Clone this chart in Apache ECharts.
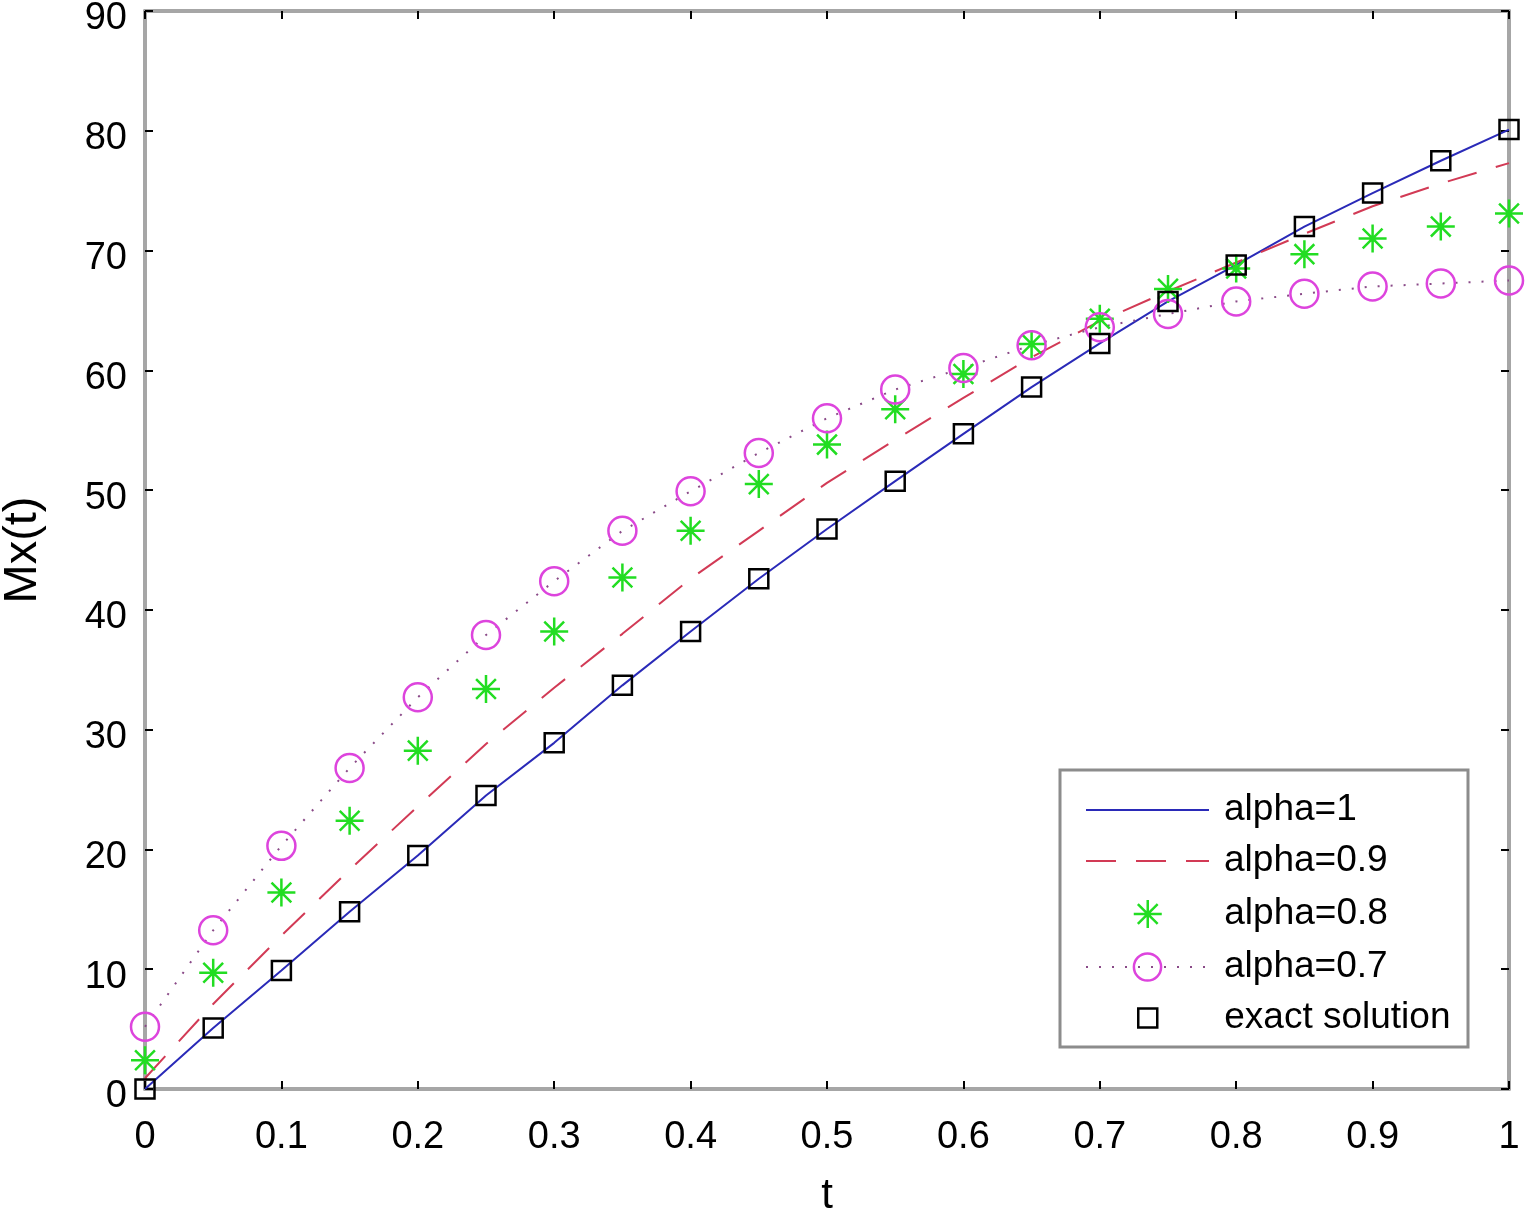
<!DOCTYPE html>
<html><head><meta charset="utf-8">
<script src="https://cdn.jsdelivr.net/npm/echarts@6/dist/echarts.min.js"></script>
<style>html,body{margin:0;padding:0;background:#fff}#c{width:1526px;height:1216px}</style>
</head><body><div id="c"></div>
<script>
const tValues = [0,0.05,0.1,0.15,0.2,0.25,0.3,0.35,0.4,0.45,0.5,0.55,0.6,0.65,0.7,0.75,0.8,0.85,0.9,0.95,1];
const xTickLabels = ['0','0.1','0.2','0.3','0.4','0.5','0.6','0.7','0.8','0.9','1'];
const yTickLabels = ['0','10','20','30','40','50','60','70','80','90'];
const alpha1  = [0,5.1,9.9,14.8,19.5,24.5,28.9,33.7,38.2,42.6,46.75,50.75,54.7,58.6,62.25,65.75,68.8,72.0,74.8,77.5,80.1];
const alpha09 = [0.9,7.1,12.8,18.3,23.6,28.8,33.5,38.0,42.6,46.6,50.6,54.2,57.7,61.1,64.1,66.6,69.0,71.4,73.7,75.6,77.3];
const alpha08 = [2.4,9.7,16.4,22.4,28.25,33.4,38.2,42.7,46.6,50.5,53.8,56.75,59.7,62.2,64.3,66.8,68.5,69.7,71.0,72.0,73.1];
const alpha07 = [5.2,13.25,20.3,26.8,32.7,37.9,42.4,46.6,49.9,53.1,56.0,58.4,60.2,62.1,63.6,64.7,65.75,66.4,67.0,67.25,67.5];
const exact   = [0,5.1,9.9,14.8,19.5,24.5,28.9,33.7,38.2,42.6,46.75,50.75,54.7,58.6,62.25,65.75,68.8,72.0,74.8,77.5,80.1];
const seriesNames = ['alpha=1','alpha=0.9','alpha=0.8','alpha=0.7','exact solution'];

const pairs = arr => tValues.map((t, i) => [t, arr[i]]);
const FONT = 'Liberation Sans';
const STAR = 'path://M0,-10L0,10M-10,0L10,0M-7.07,-7.07L7.07,7.07M-7.07,7.07L7.07,-7.07';
const CIRCLE = 'path://M10,0A10,10 0 1,1 -10,0A10,10 0 1,1 10,0Z';
const SQUARE = 'path://M0,0L10,0L10,10L0,10Z';
const frameColor = '#a6a6a6';

function xAx(pos, show) {
  return {
    type: 'value', min: 0, max: 1, interval: 0.1, position: pos,
    axisLine: { show: true, onZero: false, lineStyle: { color: frameColor, width: 4 } },
    axisTick: { show: true, inside: true, length: 8, lineStyle: { color: '#000', width: 2 } },
    axisLabel: { show: show, fontSize: 38, color: '#000', fontFamily: FONT, margin: 30,
      formatter: v => xTickLabels[Math.round(v * 10)] },
    splitLine: { show: false },
    name: show ? 't' : '', nameLocation: 'middle', nameGap: 86,
    nameTextStyle: { fontSize: 42, color: '#000', fontFamily: FONT }
  };
}
function yAx(pos, show) {
  return {
    type: 'value', min: 0, max: 90, interval: 10, position: pos,
    axisLine: { show: true, onZero: false, lineStyle: { color: frameColor, width: 4 } },
    axisTick: { show: true, inside: true, length: 8, lineStyle: { color: '#000', width: 2 } },
    axisLabel: { show: show, fontSize: 38, color: '#000', fontFamily: FONT, margin: 18,
      verticalAlign: 'top', lineHeight: 16,
      formatter: v => yTickLabels[Math.round(v / 10)] },
    splitLine: { show: false },
    name: show ? 'Mx(t)' : '', nameLocation: 'middle', nameGap: 98,
    nameTextStyle: { fontSize: 47, color: '#000', fontFamily: FONT }
  };
}

const legendBase = {
  orient: 'vertical', left: 1085, padding: 0, itemWidth: 123, selectedMode: false, z: 6,
  textStyle: { fontSize: 37, color: '#000', fontFamily: FONT, lineHeight: 40, padding: [0, 0, 0, 10] }
};
const rowCenters = [810, 861, 914, 967, 1018];

const chart = echarts.init(document.getElementById('c'), null, { renderer: 'canvas' });
chart.setOption({
  animation: false,
  backgroundColor: '#fff',
  grid: { left: 145, right: 17, top: 11, bottom: 127, containLabel: false, outerBoundsMode: 'none' },
  xAxis: [xAx('bottom', true), xAx('top', false)],
  yAxis: [yAx('left', true), yAx('right', false)],
  graphic: [{
    type: 'rect', z: 5,
    shape: { x: 1060, y: 770, width: 408, height: 277 },
    style: { fill: '#fff', stroke: '#8c8c8c', lineWidth: 3 }
  }],
  legend: [
    Object.assign({}, legendBase, { data: [seriesNames[0]], top: rowCenters[0] - 20, itemHeight: 20,
      itemStyle: { opacity: 0 } }),
    Object.assign({}, legendBase, { data: [seriesNames[1]], top: rowCenters[1] - 20, itemHeight: 20,
      itemStyle: { opacity: 0 } }),
    Object.assign({}, legendBase, { data: [seriesNames[2]], top: rowCenters[2] - 20, itemHeight: 28,
      left: 1085 + (123 - 28) / 2,
      itemStyle: { color: 'rgba(0,0,0,0)', borderColor: '#22dd22', borderWidth: 2.5, opacity: 1 } }),
    Object.assign({}, legendBase, { data: [seriesNames[3]], top: rowCenters[3] - 20, itemHeight: 34,
      itemStyle: { color: 'rgba(0,0,0,0)', borderColor: '#dd44dd', borderWidth: 2.5 } }),
    Object.assign({}, legendBase, { data: [seriesNames[4]], top: rowCenters[4] - 20, itemHeight: 19,
      left: 1085 + (123 - 19) / 2,
      itemStyle: { color: 'rgba(0,0,0,0)', borderColor: '#000', borderWidth: 2.5, opacity: 1 } })
  ],
  series: [
    { name: seriesNames[0], type: 'line', data: pairs(alpha1), symbol: 'none', z: 2,
      lineStyle: { color: '#2a2ab8', width: 2 }, itemStyle: { color: '#2a2ab8' } },
    { name: seriesNames[1], type: 'line', data: pairs(alpha09), symbol: 'none', z: 2,
      lineStyle: { color: '#d23a55', width: 2, type: [30, 20] }, itemStyle: { color: '#d23a55' } },
    { name: seriesNames[2], type: 'scatter', data: pairs(alpha08), symbol: STAR, symbolSize: 28, z: 3,
      itemStyle: { color: 'rgba(0,0,0,0)', borderColor: '#22dd22', borderWidth: 2.5, opacity: 1 } },
    { name: seriesNames[3], type: 'line', data: pairs(alpha07), symbol: CIRCLE, symbolSize: 28, showAllSymbol: true, z: 3,
      lineStyle: { color: '#8a4a88', width: 2, type: [2, 11] },
      itemStyle: { color: 'rgba(0,0,0,0)', borderColor: '#dd44dd', borderWidth: 2.5 } },
    { name: seriesNames[4], type: 'scatter', data: pairs(exact), symbol: SQUARE, symbolSize: 19, z: 4,
      itemStyle: { color: 'rgba(0,0,0,0)', borderColor: '#000', borderWidth: 2.5, opacity: 1 } }
  ]
});
</script>
</body></html>
